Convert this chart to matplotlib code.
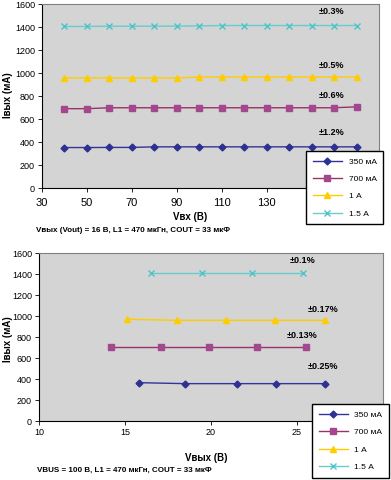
import matplotlib
matplotlib.use('Agg')
import matplotlib.pyplot as plt

plt.rcParams['font.family'] = ['Liberation Sans Narrow', 'Liberation Sans', 'DejaVu Sans']

# Верхний график: зависимость от входного напряжения
vin = [40, 50, 60, 70, 80, 90, 100, 110, 120, 130, 140, 150, 160, 170]
top_350 = [352, 352, 353, 353, 358, 358, 358, 358, 358, 358, 358, 358, 358, 358]
top_700 = [690, 690, 698, 698, 698, 698, 698, 698, 698, 698, 698, 698, 698, 706]
top_1a = [957, 957, 957, 957, 957, 957, 965, 965, 965, 965, 965, 965, 965, 965]
top_15a = [1405, 1405, 1407, 1407, 1408, 1408, 1410, 1413, 1413, 1413, 1413, 1413, 1413, 1413]
top_notes = ['±1.2%', '±0.6%', '±0.5%', '±0.3%']
top_note_y = [445, 765, 1025, 1495]
top_xticks = [30, 50, 70, 90, 110, 130, 150, 170]
top_xlabels = ['30', '50', '70', '90', '110', '130', '', '']  # 150 и 170 закрыты легендой

# Нижний график: зависимость от выходного напряжения
v_350 = [15.8, 18.5, 21.5, 23.8, 26.6]
i_350 = [365, 356, 356, 356, 356]
v_700 = [14.2, 17.1, 19.9, 22.7, 25.5]
i_700 = [702, 702, 702, 702, 702]
v_1a = [15.1, 18.0, 20.9, 23.7, 26.6]
i_1a = [969, 959, 959, 959, 959]
v_15a = [16.5, 19.5, 22.4, 25.35]
i_15a = [1410, 1410, 1410, 1410]
bot_notes = ['±0.25%', '±0.13%', '±0.17%', '±0.1%']
bot_note_x = [26.5, 25.3, 26.5, 25.3]
bot_note_y = [475, 770, 1015, 1490]
bot_xticks = [10, 15, 20, 25, 30]
bot_xlabels = ['10', '15', '20', '25', '']  # 30 закрыто легендой

labels = ['350 мА', '700 мА', '1 А', '1.5 А']
styles = [
    dict(color='#333399', marker='D', ms=3.5, mfc='#2e3192', mec='#2e3192'),
    dict(color='#993366', marker='s', ms=4, mfc='#a3478f', mec='#a3478f'),
    dict(color='#ffcc00', marker='^', ms=5, mfc='#ffcc00', mec='#ffcc00'),
    dict(color='#66cccc', marker='x', ms=4.5, mfc='#4ec3c8', mec='#4ec3c8'),
]

fig = plt.figure(figsize=(3.91, 4.80), dpi=100)
ax1 = fig.add_axes([0.1074, 0.6083, 0.862, 0.3833])
ax2 = fig.add_axes([0.0997, 0.1229, 0.8798, 0.35])

def style_axes(ax):
    ax.set_facecolor('#d4d4d4')
    ax.set_ylim(0, 1600)
    ax.set_yticks(range(0, 1601, 200))
    for s in ['top', 'right']:
        ax.spines[s].set_color('#808080')
    for s in ['left', 'bottom']:
        ax.spines[s].set_color('#000000')
    ax.tick_params(labelsize=6.5, length=3, width=0.6, direction='out', pad=2)

leg_kw = dict(loc='upper left', fontsize=6, frameon=True, fancybox=False,
              edgecolor='black', handlelength=3.5, labelspacing=1.15,
              borderpad=0.8, handletextpad=0.8, framealpha=1)

# верх
top_series = [top_350, top_700, top_1a, top_15a]
handles = []
for vals, st, lab in zip(top_series, styles, labels):
    h, = ax1.plot(vin, vals, lw=1, label=lab, **st)
    handles.append(h)
for t, y in zip(top_notes, top_note_y):
    ax1.text(159, y, t, fontsize=6.5, fontweight='bold', ha='center', va='bottom')
style_axes(ax1)
ax1.set_xlim(30, 180)
ax1.set_xticks(top_xticks)
ax1.set_xticklabels(top_xlabels)
ax1.tick_params(axis='x', labelsize=8, pad=4)
fig.text(0.02, 0.802, 'Iвых (мА)', rotation=90, fontsize=7, fontweight='bold',
         ha='center', va='center')
fig.text(0.486, 0.548, 'Vвх (В)', fontsize=7, fontweight='bold', ha='center', va='center')
fig.text(0.092, 0.519, 'Vвых (Vout) = 16 В, L1 = 470 мкГн, COUT = 33 мкФ',
         fontsize=5.8, fontweight='bold', ha='left', va='center')
fig.legend(handles, labels, bbox_to_anchor=(0.772, 0.694), **leg_kw)

# низ
bot_x = [v_350, v_700, v_1a, v_15a]
bot_y = [i_350, i_700, i_1a, i_15a]
handles2 = []
for xs, ys, st, lab in zip(bot_x, bot_y, styles, labels):
    h, = ax2.plot(xs, ys, lw=1, label=lab, **st)
    handles2.append(h)
for t, x, y in zip(bot_notes, bot_note_x, bot_note_y):
    ax2.text(x, y, t, fontsize=6.5, fontweight='bold', ha='center', va='bottom')
style_axes(ax2)
ax2.set_xlim(10, 30)
ax2.set_xticks(bot_xticks)
ax2.set_xticklabels(bot_xlabels)
fig.text(0.02, 0.294, 'Iвых (мА)', rotation=90, fontsize=7, fontweight='bold',
         ha='center', va='center')
fig.text(0.527, 0.046, 'Vвых (В)', fontsize=7, fontweight='bold', ha='center', va='center')
fig.text(0.095, 0.021, 'VBUS = 100 В, L1 = 470 мкГн, COUT = 33 мкФ',
         fontsize=5.8, fontweight='bold', ha='left', va='center')
fig.legend(handles2, labels, bbox_to_anchor=(0.787, 0.166), **leg_kw)

fig.savefig('out.png', dpi=100, facecolor='white')
